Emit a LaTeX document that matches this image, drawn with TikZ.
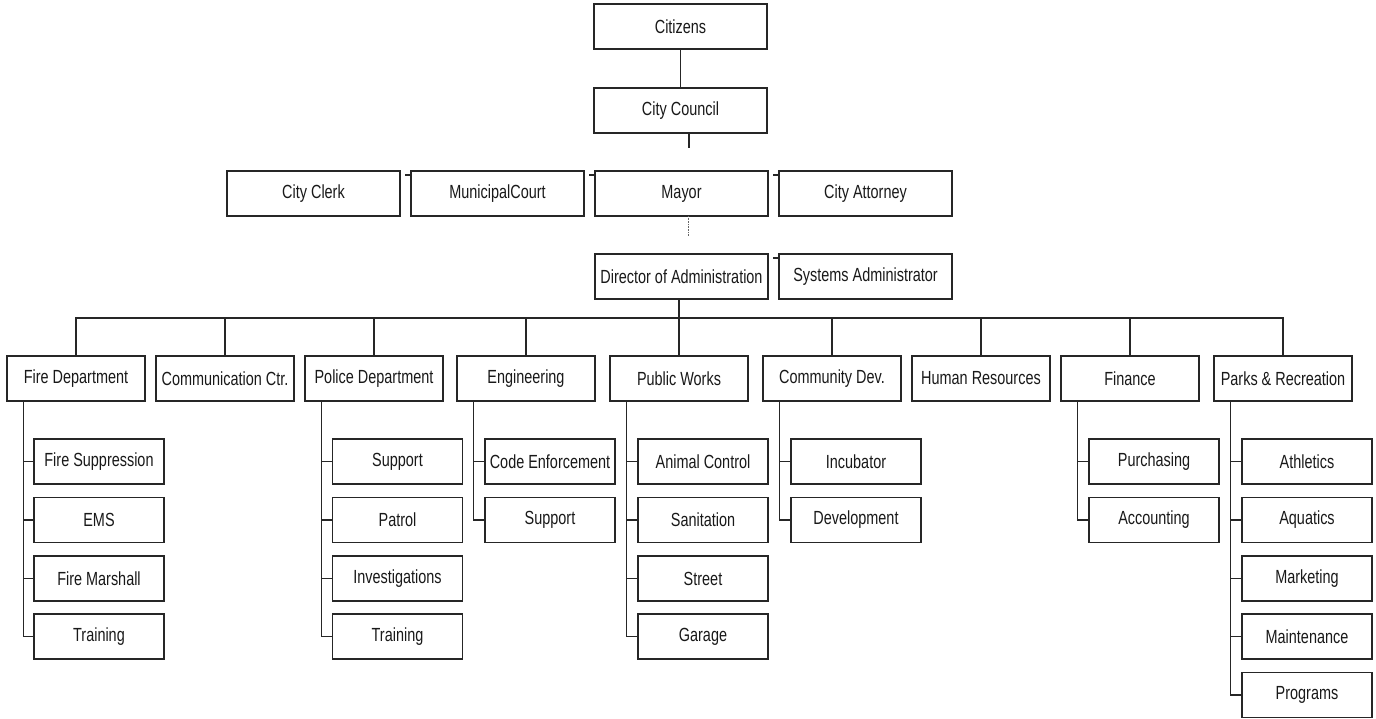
\documentclass[tikz,border=0pt]{standalone}
\usepackage{fontspec}
\setmainfont{Liberation Sans}[FakeStretch=0.76]
\begin{document}
\begin{tikzpicture}[x=1pt,y=-1pt,
  box/.style={draw=black!85, line width=1.5pt, fill=white, inner sep=0pt, outer sep=0pt,
    minimum height=45pt, font=\fontsize{19}{21}\selectfont, text=black!90},
  top/.style={box, minimum width=173pt},
  dept/.style={box, minimum width=138pt},
  sub/.style={box, minimum width=130pt},
  conn/.style={draw=black!85, line width=1.2pt},
  tick/.style={draw=black!85, line width=1.1pt},
  faint/.style={draw=black!60, line width=0.6pt, densely dotted}]
\useasboundingbox (0,0) rectangle (1376,719);
% top levels
\node[top] (citizens) at (680.5,26.5) {Citizens};
\node[top] (council) at (680.5,110.5) {City Council};
\node[top] (clerk) at (313.5,193.5) {City Clerk};
\node[top] (court) at (497.5,193.5) {MunicipalCourt};
\node[top] (mayor) at (681.5,193.5) {Mayor};
\node[top] (attorney) at (865.5,193.5) {City Attorney};
\node[top] (director) at (681.5,276.5) {Director of Administration};
\node[top] (sysadmin) at (865.5,276.5) {Systems Administrator};
% departments
\node[dept] (fire) at (76,378.5) {Fire Department};
\node[dept] (comm) at (225,378.5) {Communication Ctr.};
\node[dept] (police) at (374,378.5) {Police Department};
\node[dept] (eng) at (526,378.5) {Engineering};
\node[dept] (pw) at (679,378.5) {Public Works};
\node[dept] (cd) at (832,378.5) {Community Dev.};
\node[dept] (hr) at (981,378.5) {Human Resources};
\node[dept] (fin) at (1130,378.5) {Finance};
\node[dept] (parks) at (1283,378.5) {Parks \& Recreation};
% sub units
\node[sub] (f1) at (99,461.5) {Fire Suppression};
\node[sub] (f2) at (99,520) {EMS};
\node[sub] (f3) at (99,578.5) {Fire Marshall};
\node[sub] (f4) at (99,636.5) {Training};
\node[sub] (p1) at (397.5,461.5) {Support};
\node[sub] (p2) at (397.5,520) {Patrol};
\node[sub] (p3) at (397.5,578.5) {Investigations};
\node[sub] (p4) at (397.5,636.5) {Training};
\node[sub] (e1) at (550,461.5) {Code Enforcement};
\node[sub] (e2) at (550,520) {Support};
\node[sub] (w1) at (703,461.5) {Animal Control};
\node[sub] (w2) at (703,520) {Sanitation};
\node[sub] (w3) at (703,578.5) {Street};
\node[sub] (w4) at (703,636.5) {Garage};
\node[sub] (c1) at (856,461.5) {Incubator};
\node[sub] (c2) at (856,520) {Development};
\node[sub] (n1) at (1154,461.5) {Purchasing};
\node[sub] (n2) at (1154,520) {Accounting};
\node[sub] (r1) at (1307,461.5) {Athletics};
\node[sub] (r2) at (1307,520) {Aquatics};
\node[sub] (r3) at (1307,578.5) {Marketing};
\node[sub] (r4) at (1307,636.5) {Maintenance};
\node[sub] (r5) at (1307,695) {Programs};
% connectors top
\draw[conn] (citizens) -- (council);
\coordinate (cstub) at (689,148);
\draw[conn] (council.south -| cstub) -- (cstub);
\coordinate (mstub) at (688,236);
\draw[faint] (mayor.south -| mstub) -- (mstub);
\foreach \n in {court,mayor,attorney,sysadmin}
  \draw[tick] ([xshift=-6pt,yshift=-4pt]\n.north west) -- ([yshift=-4pt]\n.north west);
% bus
\coordinate (bus) at (679,318);
\draw[conn] (director.south -| bus) -- (bus);
\draw[conn] (fire.north) |- (bus) -| (parks.north);
\foreach \d in {comm,police,eng,pw,cd,hr,fin}
  \draw[conn] (\d.north) -- (\d.north |- bus);
% sub connectors
\foreach \d/\list in {fire/{f1,f2,f3,f4},police/{p1,p2,p3,p4},eng/{e1,e2},pw/{w1,w2,w3,w4},cd/{c1,c2},fin/{n1,n2},parks/{r1,r2,r3,r4,r5}}
  \foreach \s in \list
    \draw[conn] ([xshift=16.5pt]\d.south west) |- (\s.west);
\end{tikzpicture}
\end{document}
